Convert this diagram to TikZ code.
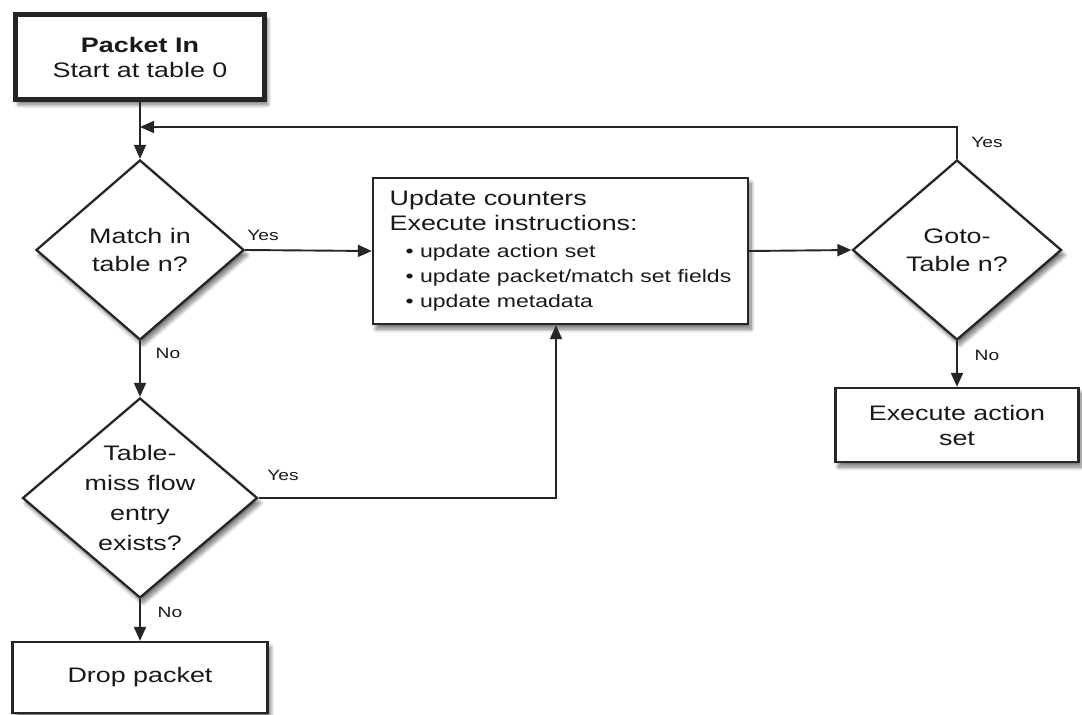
\documentclass[tikz,border=0pt]{standalone}
\usepackage{fontspec}
\setmainfont{Liberation Sans}[FakeStretch=1.28]
\usetikzlibrary{shapes.geometric,arrows.meta,shadows.blur}

\begin{document}
\begin{tikzpicture}[x=1pt,y=-1pt,
  ink/.style={draw=black!85, line width=2.3pt},
  shade/.style={blur shadow={shadow xshift=3pt, shadow yshift=-5pt,
      shadow opacity=55, shadow blur radius=4pt, shadow blur steps=10}},
  box/.style={ink, shade, fill=white, rectangle, inner sep=0pt,
      font=\fontsize{21}{25}\selectfont, align=center, text=black!90},
  startbox/.style={box, line width=5pt},
  decision/.style={ink, shade, fill=white, diamond, inner sep=0pt},
  dtext/.style={font=\fontsize{21}{28}\selectfont, align=center, text=black!90},
  flow/.style={draw=black!85, line width=1.9pt, -{Triangle[length=14pt,width=12pt]}},
  tag/.style={font=\fontsize{15}{18}\selectfont, text=black!90, inner sep=0pt}
]
\path[use as bounding box] (0,0) rectangle (1082,715);

% start of the pipeline
\node[startbox, minimum width=249, minimum height=85] (pkt) at (140,57)
  {\textbf{Packet In}\\Start at table 0};

% first lookup
\node[decision, minimum width=208, minimum height=180] (match) at (140,250) {};
\node[dtext] (matchtxt) at (match) {Match in\\table n?};

% instruction processing
\node[box, minimum width=375, minimum height=146, align=left] (upd) at (560.5,251)
  {Update counters\\
   Execute instructions:\\[2pt]
   {\fontsize{18}{25}\selectfont\hspace*{16pt}\textbullet\ update action set}\\
   {\fontsize{18}{25}\selectfont\hspace*{16pt}\textbullet\ update packet/match set fields}\\
   {\fontsize{18}{25}\selectfont\hspace*{16pt}\textbullet\ update metadata}};

% table-miss handling
\node[decision, minimum width=235, minimum height=200] (miss) at (140,498) {};
\node[dtext, font=\fontsize{21}{30}\selectfont] (misstxt) at (miss) {Table-\\miss flow\\entry\\exists?};

\node[box, minimum width=255, minimum height=71] (drop) at (140,677.5) {Drop packet};

% goto decision
\node[decision, minimum width=209, minimum height=180] (goto) at (957,250) {};
\node[dtext] (gototxt) at (goto) {Goto-\\Table n?};

\node[box, minimum width=243, minimum height=74] (exec) at (957,425) {Execute action\\set};

% connectors
\coordinate (back) at (140,127);
\coordinate (turn) at (556,498);

\draw[flow] (pkt) -- (match);
\draw[flow] (goto.north) |- (back);
\draw[flow] (match.east) -- (upd.west);
\draw[flow] (match.south) -- (miss.north);
\draw[flow] (miss.east) -- (turn) -- (turn |- upd.south);
\draw[flow] (miss.south) -- (drop.north);
\draw[flow] (upd.east) -- (goto.west);
\draw[flow] (goto.south) -- (exec.north);

% branch labels
\node[tag] (y1) at (263,235) {Yes};
\node[tag] (n1) at (168,353) {No};
\node[tag] (y2) at (283,475) {Yes};
\node[tag] (n2) at (170,612) {No};
\node[tag] (y3) at (987,142) {Yes};
\node[tag] (n3) at (987,355) {No};
\end{tikzpicture}
\end{document}
